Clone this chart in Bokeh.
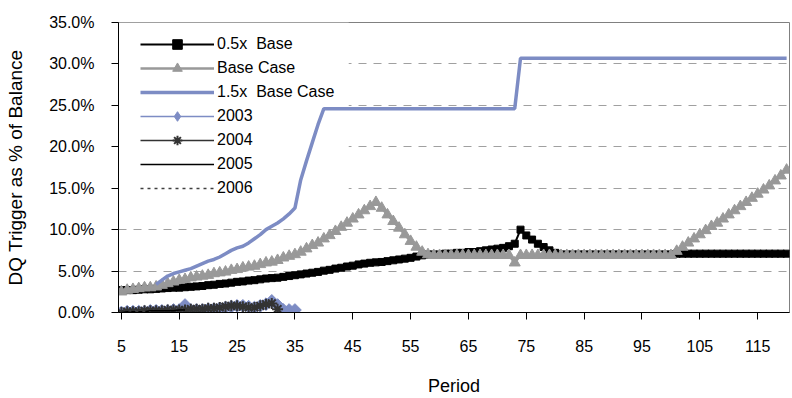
import numpy as np
from bokeh.plotting import figure
from bokeh.models import Range1d, FixedTicker, Legend, LegendItem, BoxAnnotation
from bokeh.embed import file_html
from bokeh.resources import INLINE

# ---- data (DQ trigger, % of balance, by period) ----
periods = list(range(5, 121))

half_base = [
    2.7, 2.7, 2.7, 2.75, 2.8,
    2.8, 2.85, 2.9, 2.95, 3.0,
    3.0, 3.05, 3.1, 3.15, 3.2,
    3.3, 3.35, 3.45, 3.5, 3.6,
    3.7, 3.75, 3.85, 3.9, 4.0,
    4.1, 4.15, 4.2, 4.3, 4.4,
    4.5, 4.6, 4.7, 4.8, 4.9,
    5.05, 5.15, 5.3, 5.4, 5.55,
    5.65, 5.8, 5.9, 6.0, 6.05,
    6.1, 6.2, 6.3, 6.4, 6.5,
    6.6, 6.75, 6.9, 7.0, 7.0,
    7.0, 7.1, 7.1, 7.2, 7.2,
    7.3, 7.3, 7.4, 7.5, 7.6,
    7.7, 7.8, 8.0, 8.3, 10.0,
    9.3, 8.8, 8.3, 7.9, 7.5,
    7.2, 7.0, 7.0, 7.0, 7.0,
    7.0, 7.0, 7.0, 7.0, 7.0,
    7.0, 7.0, 7.0, 7.0, 7.0,
    7.0, 7.0, 7.0, 7.0, 7.0,
    7.0,
    7.1, 7.1, 7.1, 7.1, 7.1,
    7.1, 7.1, 7.1, 7.1, 7.1,
    7.1, 7.1, 7.1, 7.1, 7.1,
    7.1, 7.1, 7.1, 7.1, 7.1,
]

base_case = [
    2.5, 2.7, 2.8, 2.9, 3.0,
    3.0, 3.1, 3.3, 3.5, 3.7,
    3.9, 4.0, 4.2, 4.3, 4.4,
    4.5, 4.7, 4.8, 4.9, 5.1,
    5.2, 5.4, 5.5, 5.6, 5.8,
    6.0, 6.1, 6.3, 6.6, 6.8,
    7.0, 7.3, 7.7, 8.1, 8.4,
    8.9, 9.3, 9.8, 10.3, 10.8,
    11.3, 11.8, 12.3, 12.8, 13.3,
    12.6, 11.8, 11.0, 10.2, 9.4,
    8.6, 7.9, 7.3, 7.0, 6.9,
    6.9, 6.9, 6.9, 6.9, 6.9,
    6.9, 6.9, 6.9, 6.9, 6.9,
    6.9, 6.9, 6.9, 6.0, 6.9,
    6.9, 6.9, 6.9, 6.9, 6.9,
    6.9, 6.9, 6.9, 6.9, 6.9,
    6.9, 6.9, 6.9, 6.9, 6.9,
    6.9, 6.9, 6.9, 6.9, 6.9,
    6.9, 6.9, 6.9, 6.9, 6.9,
    6.9,
    7.4, 7.9, 8.4, 8.9, 9.4,
    9.9, 10.4, 10.8, 11.3, 11.8,
    12.3, 12.8, 13.3, 13.8, 14.3,
    14.8, 15.3, 15.9, 16.5, 17.2,
]

onehalf_periods = list(range(11, 121))
onehalf_base = (
    [3.4, 3.9, 4.4, 4.7, 4.9, 5.1, 5.3, 5.6, 5.9, 6.2,
     6.4, 6.7, 7.1, 7.5, 7.8, 8.0, 8.4, 8.9, 9.4, 10.0,
     10.4, 10.8, 11.3, 11.9, 12.6, 16.0, 18.3, 20.5, 22.7, 24.6]
    + [24.6] * 33
    + [30.7] * 47
)

y2003_periods = list(range(5, 36))
y2003 = [
    0.0, 0.1, 0.1, 0.1, 0.1,
    0.2, 0.2, 0.2, 0.2, 0.3,
    0.3, 0.9, 0.3, 0.3, 0.3,
    0.4, 0.4, 0.5, 0.6, 0.7,
    0.8, 0.8, 0.7, 0.6, 0.8,
    1.0, 1.4, 0.9, 0.3, 0.3,
    0.3,
]

y2004_periods = list(range(5, 33))
y2004 = [
    0.0, 0.1, 0.1, 0.1, 0.2,
    0.2, 0.2, 0.2, 0.3, 0.3,
    0.3, 0.3, 0.4, 0.4, 0.4,
    0.5, 0.5, 0.6, 0.7, 0.8,
    0.8, 0.7, 0.6, 0.6, 0.8,
    1.0, 1.1, 0.4,
]

y2005_periods = list(range(5, 17))
y2005 = [0.0, 0.1, 0.1, 0.1, 0.1, 0.2, 0.2, 0.2, 0.2, 0.2, 0.3, 0.3]

y2006_periods = list(range(5, 11))
y2006 = [0.0, 0.0, 0.1, 0.1, 0.1, 0.1]

y_ticks = [0, 5, 10, 15, 20, 25, 30, 35]
y_tick_labels = ["0.0%", "5.0%", "10.0%", "15.0%", "20.0%", "25.0%", "30.0%", "35.0%"]
x_ticks = list(range(5, 121, 10))

# ---- styling ----
FONT = "Liberation Sans"
BLUE = "#7D8CC4"
GRAY = "#999999"
DARK = "#333333"

p = figure(
    width=792, height=398,
    output_backend="svg", toolbar_location=None,
    x_range=Range1d(4.5, 120.5), y_range=Range1d(0, 35),
    min_border_left=118, min_border_right=3,
    min_border_top=22, min_border_bottom=85,
    background_fill_color="white", border_fill_color="white",
)
p.outline_line_color = "#808080"
p.outline_line_width = 1

p.xgrid.visible = False
p.ygrid.ticker = FixedTicker(ticks=y_ticks)
p.ygrid.grid_line_color = "#A0A0A0"
p.ygrid.grid_line_dash = "8 7"
p.ygrid.grid_line_width = 1

# white panel under the (transparent) legend: hides gridlines, not series
p.add_layout(BoxAnnotation(left=4.5, right=44.3, bottom=13, top=35,
                           fill_color="white", fill_alpha=1.0,
                           line_color=None, level="underlay"))

# axes
p.xaxis.ticker = FixedTicker(ticks=x_ticks)
p.yaxis.ticker = FixedTicker(ticks=y_ticks)
p.yaxis.major_label_overrides = {t: l for t, l in zip(y_ticks, y_tick_labels)}
for ax in (p.xaxis[0], p.yaxis[0]):
    ax.axis_line_color = "black"
    ax.axis_line_width = 1
    ax.major_tick_line_color = "black"
    ax.major_tick_in = 0
    ax.major_tick_out = 7
    ax.minor_tick_line_color = None
    ax.major_label_text_font = FONT
    ax.major_label_text_font_size = "16px"
    ax.major_label_text_color = "black"
    ax.axis_label_text_font = FONT
    ax.axis_label_text_font_style = "normal"
    ax.axis_label_text_color = "black"

p.xaxis.major_label_standoff = 20
p.yaxis.major_label_standoff = 17
p.xaxis.axis_label = "Period"
p.xaxis.axis_label_text_font_size = "18px"
p.xaxis.axis_label_standoff = 21
p.yaxis.axis_label = "DQ Trigger as % of Balance"
p.yaxis.axis_label_text_font_size = "19px"
p.yaxis.axis_label_standoff = 20

# ---- series ----
r05_l = p.line(periods, half_base, line_color="black", line_width=2)
r05_m = p.scatter(periods, half_base, marker="square", size=7,
                  fill_color="black", line_color="black")

rbc_l = p.line(periods, base_case, line_color=GRAY, line_width=2.5)
rbc_m = p.scatter(periods, base_case, marker="triangle", size=11,
                  fill_color=GRAY, line_color=GRAY)

r15_l = p.line(onehalf_periods, onehalf_base, line_color=BLUE, line_width=3.5)

r03_l = p.line(y2003_periods, y2003, line_color=BLUE, line_width=1.5)
r03_m = p.scatter(y2003_periods, y2003, marker="square", angle=np.pi / 4, size=9,
                  fill_color=BLUE, line_color=BLUE)
# hidden diamond copy of the 2003 points, used only as the legend swatch
r03_key = p.scatter(y2003_periods, y2003, marker="diamond", size=12,
                    fill_color=BLUE, line_color=BLUE, visible=False)

r04_l = p.line(y2004_periods, y2004, line_color=DARK, line_width=1.5)
r04_m = p.scatter(y2004_periods, y2004, marker="asterisk", size=11,
                  line_color=DARK, line_width=2)

r05y_l = p.line(y2005_periods, y2005, line_color="black", line_width=1.5)
r06y_l = p.line(y2006_periods, y2006, line_color="#404040", line_width=1.5,
                line_dash="3 4")

legend = Legend(
    items=[
        LegendItem(label="0.5x  Base", renderers=[r05_l, r05_m]),
        LegendItem(label="Base Case", renderers=[rbc_l, rbc_m]),
        LegendItem(label="1.5x  Base Case", renderers=[r15_l]),
        LegendItem(label="2003", renderers=[r03_l, r03_key]),
        LegendItem(label="2004", renderers=[r04_l, r04_m]),
        LegendItem(label="2005", renderers=[r05y_l]),
        LegendItem(label="2006", renderers=[r06y_l]),
    ],
    location=(22, 112),
    padding=9, margin=0, spacing=0,
    glyph_width=74, glyph_height=24, label_height=24,
    label_standoff=3,
    label_text_font=FONT, label_text_font_size="16px", label_text_color="black",
    border_line_color=None,
    background_fill_alpha=0.0,
)
p.add_layout(legend)

open("out.html", "w").write(file_html(p, INLINE))
